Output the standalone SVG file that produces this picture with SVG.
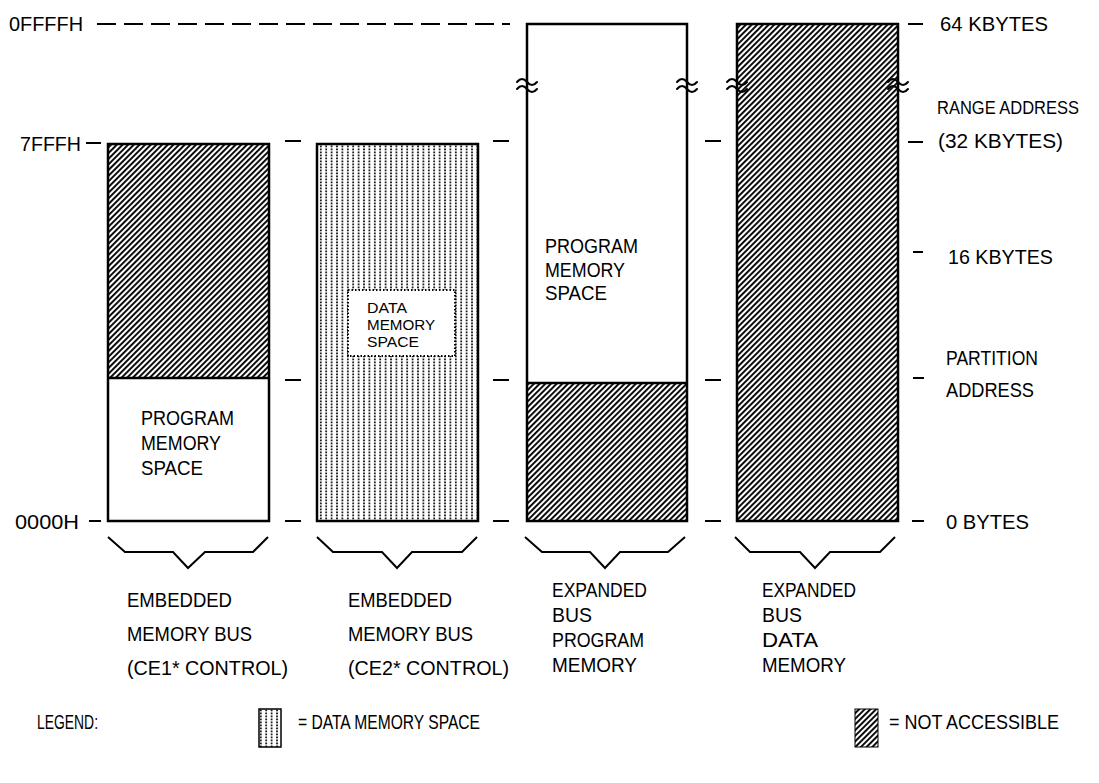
<svg xmlns="http://www.w3.org/2000/svg" width="1099" height="783" viewBox="0 0 1099 783">
<style>
.t{font-family:"Liberation Sans",Arial,sans-serif;font-size:21px;fill:#000}
.ts{font-size:15px}
.box{stroke:#000;stroke-width:2.5}
.ln{stroke:#000;stroke-width:2;fill:none}
.brk{stroke:#000;stroke-width:2;fill:none;stroke-linecap:round}
</style>
<defs>
<pattern id="hatch" patternUnits="userSpaceOnUse" width="4" height="10" patternTransform="rotate(45)">
<rect x="0" y="0" width="1.9" height="10" fill="#000"/>
</pattern>
<pattern id="dots" patternUnits="userSpaceOnUse" width="5.4" height="3" x="319" y="145">
<rect x="1" y="0.5" width="1.6" height="1.8" fill="#000"/>
</pattern>
<pattern id="dotsL" patternUnits="userSpaceOnUse" width="5.4" height="3" x="259" y="709">
<rect x="1" y="0.5" width="1.6" height="1.8" fill="#000"/>
</pattern>
<path id="wave" d="M-10,-3 q5,-6 10,0 t10,0 M-10,4 q5,-6 10,0 t10,0"/>
</defs>
<rect width="1099" height="783" fill="#fff"/>

<g id="axis-labels">
<text class="t" x="9" y="31" textLength="74" lengthAdjust="spacingAndGlyphs">0FFFFH</text>
<text class="t" x="20" y="151" textLength="61" lengthAdjust="spacingAndGlyphs">7FFFH</text>
<text class="t" x="15" y="529" textLength="64" lengthAdjust="spacingAndGlyphs">0000H</text>
<text class="t" x="940" y="31" textLength="108" lengthAdjust="spacingAndGlyphs">64 KBYTES</text>
<text class="t" x="937" y="114" style="font-size:18px" textLength="142" lengthAdjust="spacingAndGlyphs">RANGE ADDRESS</text>
<text class="t" x="938" y="148" textLength="125" lengthAdjust="spacingAndGlyphs">(32 KBYTES)</text>
<text class="t" x="948" y="264" textLength="105" lengthAdjust="spacingAndGlyphs">16 KBYTES</text>
<text class="t" x="946" y="365" textLength="92" lengthAdjust="spacingAndGlyphs">PARTITION</text>
<text class="t" x="946" y="397" textLength="88" lengthAdjust="spacingAndGlyphs">ADDRESS</text>
<text class="t" x="946" y="529" textLength="83" lengthAdjust="spacingAndGlyphs">0 BYTES</text>
</g>

<g id="col1">
<rect x="108" y="144" width="161" height="234" fill="url(#hatch)"/>
<rect x="108" y="378" width="161" height="143" fill="#fff"/>
<rect class="box" x="108" y="144" width="161" height="377" fill="none"/>
<line class="box" x1="108" y1="378" x2="269" y2="378"/>
<text class="t" x="141" y="425" textLength="93" lengthAdjust="spacingAndGlyphs">PROGRAM</text>
<text class="t" x="141" y="450" textLength="80" lengthAdjust="spacingAndGlyphs">MEMORY</text>
<text class="t" x="141" y="475" textLength="62" lengthAdjust="spacingAndGlyphs">SPACE</text>
</g>

<g id="col2">
<rect x="317" y="144" width="161" height="377" fill="url(#dots)"/>
<rect class="box" x="317" y="144" width="161" height="377" fill="none"/>
<rect x="348" y="290" width="107" height="66" fill="#fff" stroke="#000" stroke-width="2" stroke-dasharray="1.5 2"/>
<text class="t ts" x="367" y="313" textLength="40" lengthAdjust="spacingAndGlyphs">DATA</text>
<text class="t ts" x="367" y="330" textLength="68" lengthAdjust="spacingAndGlyphs">MEMORY</text>
<text class="t ts" x="367" y="347" textLength="52" lengthAdjust="spacingAndGlyphs">SPACE</text>
</g>

<g id="col3">
<rect x="527" y="383" width="160" height="138" fill="url(#hatch)"/>
<rect class="box" x="527" y="24" width="160" height="497" fill="none"/>
<line class="box" x1="527" y1="383" x2="687" y2="383"/>
<text class="t" x="545" y="253" textLength="93" lengthAdjust="spacingAndGlyphs">PROGRAM</text>
<text class="t" x="545" y="277" textLength="80" lengthAdjust="spacingAndGlyphs">MEMORY</text>
<text class="t" x="545" y="300" textLength="62" lengthAdjust="spacingAndGlyphs">SPACE</text>
<use href="#wave" class="brk" x="527" y="85"/>
<use href="#wave" class="brk" x="687" y="85"/>
</g>

<g id="col4">
<rect x="737" y="24" width="161" height="497" fill="url(#hatch)"/>
<rect class="box" x="737" y="24" width="161" height="497" fill="none"/>
<use href="#wave" class="brk" x="737" y="85"/>
<use href="#wave" class="brk" x="898" y="85"/>
</g>

<g id="connectors">
<line class="ln" x1="97" y1="24" x2="510" y2="24" stroke-dasharray="19 8"/>
<line class="ln" x1="86" y1="143" x2="101" y2="143"/>
<line class="ln" x1="89" y1="521" x2="101" y2="521"/>
<line class="ln" x1="285" y1="141" x2="301" y2="141"/>
<line class="ln" x1="285" y1="380" x2="301" y2="380"/>
<line class="ln" x1="285" y1="521" x2="301" y2="521"/>
<line class="ln" x1="493" y1="141" x2="509" y2="141"/>
<line class="ln" x1="493" y1="380" x2="509" y2="380"/>
<line class="ln" x1="493" y1="521" x2="509" y2="521"/>
<line class="ln" x1="705" y1="141" x2="721" y2="141"/>
<line class="ln" x1="705" y1="380" x2="721" y2="380"/>
<line class="ln" x1="705" y1="521" x2="721" y2="521"/>
<line class="ln" x1="908" y1="24" x2="923" y2="24"/>
<line class="ln" x1="908" y1="142" x2="923" y2="142"/>
<line class="ln" x1="913" y1="252" x2="923" y2="252"/>
<line class="ln" x1="913" y1="378" x2="924" y2="378"/>
<line class="ln" x1="912" y1="521" x2="924" y2="521"/>
<path class="ln" d="M108,537 L125,552 L173,552 L188,568 L205,552 L253,552 L268,537"/>
<path class="ln" d="M317,537 L333,552 L382,552 L397,568 L412,552 L462,552 L477,537"/>
<path class="ln" d="M525,537 L542,552 L590,552 L605,568 L620,552 L668,552 L685,537"/>
<path class="ln" d="M735,537 L750,552 L800,552 L815,568 L830,552 L880,552 L895,537"/>
</g>

<g id="bus-labels">
<text class="t" x="127" y="607" textLength="105" lengthAdjust="spacingAndGlyphs">EMBEDDED</text>
<text class="t" x="127" y="641" textLength="125" lengthAdjust="spacingAndGlyphs">MEMORY BUS</text>
<text class="t" x="127" y="675" textLength="161" lengthAdjust="spacingAndGlyphs">(CE1* CONTROL)</text>
<text class="t" x="348" y="607" textLength="104" lengthAdjust="spacingAndGlyphs">EMBEDDED</text>
<text class="t" x="348" y="641" textLength="125" lengthAdjust="spacingAndGlyphs">MEMORY BUS</text>
<text class="t" x="348" y="675" textLength="161" lengthAdjust="spacingAndGlyphs">(CE2* CONTROL)</text>
<text class="t" x="552" y="597" textLength="95" lengthAdjust="spacingAndGlyphs">EXPANDED</text>
<text class="t" x="552" y="622" textLength="40" lengthAdjust="spacingAndGlyphs">BUS</text>
<text class="t" x="552" y="647" textLength="92" lengthAdjust="spacingAndGlyphs">PROGRAM</text>
<text class="t" x="552" y="672" textLength="85" lengthAdjust="spacingAndGlyphs">MEMORY</text>
<text class="t" x="762" y="597" textLength="94" lengthAdjust="spacingAndGlyphs">EXPANDED</text>
<text class="t" x="762" y="622" textLength="40" lengthAdjust="spacingAndGlyphs">BUS</text>
<text class="t" x="762" y="647" textLength="56" lengthAdjust="spacingAndGlyphs">DATA</text>
<text class="t" x="762" y="672" textLength="84" lengthAdjust="spacingAndGlyphs">MEMORY</text>
</g>

<g id="legend">
<text class="t" x="37" y="729" textLength="61" lengthAdjust="spacingAndGlyphs">LEGEND:</text>
<rect x="259" y="709" width="22" height="38" fill="url(#dotsL)" stroke="#000" stroke-width="1.5"/>
<text class="t" x="298" y="729" textLength="182" lengthAdjust="spacingAndGlyphs">= DATA MEMORY SPACE</text>
<rect x="855" y="709" width="23" height="38" fill="url(#hatch)" stroke="#000" stroke-width="1"/>
<text class="t" x="889" y="729" textLength="170" lengthAdjust="spacingAndGlyphs">= NOT ACCESSIBLE</text>
</g>
</svg>
